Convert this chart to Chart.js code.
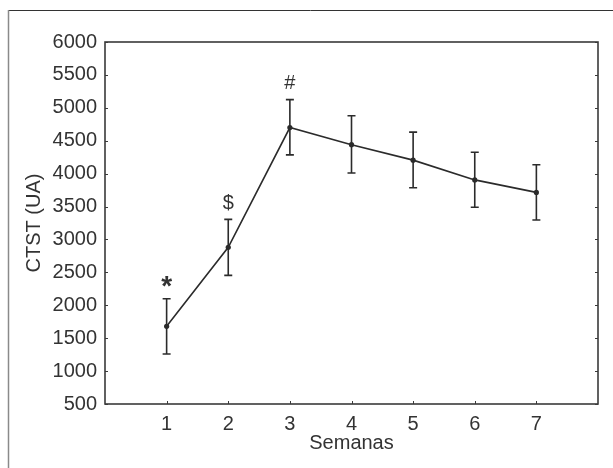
<!DOCTYPE html>
<html>
<head>
<meta charset="utf-8">
<script src="https://cdn.jsdelivr.net/npm/chart.js@4.4.1/dist/chart.umd.min.js"></script>
<style>
  html, body { margin: 0; padding: 0; background: #fff; }
  #wrap { width: 613px; height: 468px; position: relative; }
</style>
</head>
<body>
<div id="wrap"><canvas id="myChart" width="613" height="468"></canvas></div>
<script>
// data
var semanas = [1, 2, 3, 4, 5, 6, 7];
var ctst = [1680, 2880, 4700, 4440, 4205, 3905, 3715];
var errSup = [420, 425, 425, 440, 425, 420, 420];
var errInf = [420, 425, 415, 430, 420, 415, 420];
var marcas = ["*", "$", "#", "", "", "", ""];
var yTicks = [500, 1000, 1500, 2000, 2500, 3000, 3500, 4000, 4500, 5000, 5500, 6000];
var xTicks = [1, 2, 3, 4, 5, 6, 7];

var ink = "#2b2b2b";
var txt = "#333";
var fam = "'Liberation Sans', Arial, sans-serif";

var puntos = semanas.map(function(s, i) { return {x: s, y: ctst[i]}; });

// frame, box, inward ticks
var boxPlugin = {
	id: "box",
	beforeDraw: function(chart) {
		var c = chart.ctx;
		c.save();
		c.strokeStyle = "#333";
		c.lineWidth = 1;
		c.beginPath();
		c.moveTo(8, 10.5);
		c.lineTo(613, 10.5);
		c.stroke();
		c.strokeStyle = "#8a8a8a";
		c.lineWidth = 1.5;
		c.beginPath();
		c.moveTo(8.5, 10);
		c.lineTo(8.5, 468);
		c.stroke();
		c.restore();
	},
	afterDatasetsDraw: function(chart) {
		var c = chart.ctx;
		var a = chart.chartArea;
		var xs = chart.scales.x;
		var ys = chart.scales.y;
		c.save();
		c.strokeStyle = "#3a3a3a";
		c.lineWidth = 1.6;
		c.strokeRect(a.left, a.top, a.right - a.left, a.bottom - a.top);
		c.lineWidth = 1;
		c.beginPath();
		yTicks.forEach(function(v) {
			var y = Math.round(ys.getPixelForValue(v)) + 0.5;
			c.moveTo(a.left, y); c.lineTo(a.left + 3, y);
			c.moveTo(a.right, y); c.lineTo(a.right - 3, y);
		});
		xTicks.forEach(function(v) {
			var x = Math.round(xs.getPixelForValue(v)) + 0.5;
			c.moveTo(x, a.bottom); c.lineTo(x, a.bottom - 3);
		});
		c.stroke();

		// error bars
		c.strokeStyle = ink;
		c.lineWidth = 1.6;
		c.beginPath();
		semanas.forEach(function(s, i) {
			var x = xs.getPixelForValue(s);
			var yt = ys.getPixelForValue(ctst[i] + errSup[i]);
			var yb = ys.getPixelForValue(ctst[i] - errInf[i]);
			c.moveTo(x, yt); c.lineTo(x, yb);
			c.moveTo(x - 4, yt); c.lineTo(x + 4, yt);
			c.moveTo(x - 4, yb); c.lineTo(x + 4, yb);
		});
		c.stroke();

		// significance marks
		c.fillStyle = txt;
		c.textAlign = "center";
		c.textBaseline = "middle";
		semanas.forEach(function(s, i) {
			if (!marcas[i]) return;
			var x = xs.getPixelForValue(s);
			var yt = ys.getPixelForValue(ctst[i] + errSup[i]);
			if (marcas[i] === "*") {
				c.font = "bold 28px " + fam;
				c.fillText(marcas[i], x, yt - 11);
			} else {
				c.font = "20px " + fam;
				c.fillText(marcas[i], x, yt - 16);
			}
		});
		c.restore();
	}
};

var ctx = document.getElementById("myChart");
var myChart = new Chart(ctx, {
	type: "line",
	data: {
		datasets: [{
			data: puntos,
			borderColor: ink,
			borderWidth: 1.6,
			backgroundColor: ink,
			pointRadius: 2.6,
			pointBackgroundColor: ink,
			pointBorderWidth: 0,
			tension: 0,
			fill: false
		}]
	},
	options: {
		responsive: false,
		animation: false,
		events: [],
		layout: { padding: { left: 18, right: 15, top: 42, bottom: 9 } },
		plugins: { legend: { display: false }, tooltip: { enabled: false } },
		scales: {
			x: {
				type: "linear",
				min: 0,
				max: 8,
				grid: { display: false, drawTicks: false },
				border: { display: false },
				afterBuildTicks: function(s) { s.ticks = xTicks.map(function(v) { return {value: v}; }); },
				afterFit: function(s) { s.height = 55; },
				ticks: { padding: 8, color: txt, font: { family: fam, size: 20 }, maxRotation: 0, autoSkip: false,
					callback: function(v) { return String(v); } },
				title: { display: true, text: "Semanas", color: txt, font: { family: fam, size: 20 }, padding: { top: 4, bottom: 4 } }
			},
			y: {
				min: 500,
				max: 6000,
				grid: { display: false, drawTicks: false },
				border: { display: false },
				afterBuildTicks: function(s) { s.ticks = yTicks.map(function(v) { return {value: v}; }); },
				afterFit: function(s) { s.width = 87; },
				ticks: { padding: 8, color: txt, font: { family: fam, size: 20 }, autoSkip: false,
					callback: function(v) { return String(v); } },
				title: { display: true, text: "CTST (UA)", color: txt, font: { family: fam, size: 20 }, padding: { top: 4, bottom: 4 } }
			}
		}
	},
	plugins: [boxPlugin]
});
</script>
</body>
</html>
